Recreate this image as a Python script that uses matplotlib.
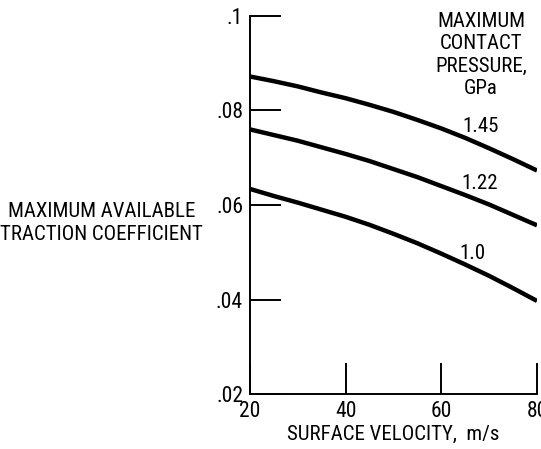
import matplotlib
matplotlib.use("Agg")
import matplotlib.pyplot as plt
from matplotlib import font_manager as fm

# vitesse de surface (m/s)
velocity = [20, 25, 30, 35, 40, 45, 50, 55, 60, 65, 70, 75, 80]

# coefficient de traction max, par pression de contact (GPa)
traction_145 = [0.0872, 0.0862, 0.0851, 0.0838, 0.0826, 0.0812, 0.0797,
                0.0780, 0.0762, 0.0742, 0.0720, 0.0697, 0.0673]
traction_122 = [0.0760, 0.0748, 0.0736, 0.0722, 0.0708, 0.0693, 0.0676,
                0.0659, 0.0640, 0.0621, 0.0601, 0.0579, 0.0557]
traction_100 = [0.0634, 0.0619, 0.0605, 0.0590, 0.0575, 0.0558, 0.0539,
                0.0519, 0.0497, 0.0474, 0.0450, 0.0424, 0.0397]

curve_labels = ["1.45", "1.22", "1.0"]
label_pos = [(68.1, 0.0766), (68.1, 0.0646), (66.4, 0.0497)]

x_ticks = [20, 40, 60, 80]
y_ticks = [0.02, 0.04, 0.06, 0.08, 0.1]
y_tick_labels = [".02", ".04", ".06", ".08", ".1"]

# chercher une police étroite (condensed / narrow)
font_name = None
for cand in ["Liberation Sans Narrow", "DejaVu Sans Condensed", "Roboto Condensed",
             "Open Sans Condensed", "Noto Sans Condensed", "Arial Narrow"]:
    try:
        fm.findfont(cand, fallback_to_default=False)
        font_name = cand
        break
    except Exception:
        pass
if font_name is None:
    for f in fm.fontManager.ttflist:
        if "condensed" in str(f.stretch).lower() or "narrow" in f.name.lower():
            if "mono" not in f.name.lower() and "serif" not in f.name.lower():
                font_name = f.name
                break
if font_name is None:
    font_name = "Liberation Sans"
plt.rcParams["font.family"] = [font_name, "DejaVu Sans"]
fs = 15

fig = plt.figure(figsize=(5.41, 4.49), dpi=100)
ax = fig.add_axes([250 / 541, 1 - 394 / 449, 287 / 541, 378 / 449])

for ys in [traction_145, traction_122, traction_100]:
    ax.plot(velocity, ys, color="black", lw=3.2, solid_capstyle="butt")

for txt, (lx, ly) in zip(curve_labels, label_pos):
    ax.text(lx, ly, txt, ha="center", va="center", fontsize=fs)

ax.set_xlim(20, 80)
ax.set_ylim(0.02, 0.1)
ax.spines["top"].set_visible(False)
ax.spines["right"].set_visible(False)
for s in ["left", "bottom"]:
    ax.spines[s].set_linewidth(1.4)

ax.set_xticks(x_ticks)
ax.set_yticks(y_ticks)
ax.set_yticklabels(y_tick_labels)
ax.tick_params(axis="both", direction="in", length=22, width=1.4, labelsize=fs + 0.5)
ax.tick_params(axis="y", pad=5)
ax.tick_params(axis="x", pad=5)

ax.set_xlabel("SURFACE VELOCITY,  m/s", fontsize=fs, labelpad=2)

fig.text(203 / 541, 1 - 223 / 449, "MAXIMUM AVAILABLE\nTRACTION COEFFICIENT",
         ha="right", va="center", multialignment="center", fontsize=fs,
         linespacing=1.25)

fig.text(481 / 541, 1 - 55 / 449, "MAXIMUM\nCONTACT\nPRESSURE,\nGPa",
         ha="center", va="center", multialignment="center", fontsize=fs,
         linespacing=1.22)

fig.savefig("out.png", dpi=100)
